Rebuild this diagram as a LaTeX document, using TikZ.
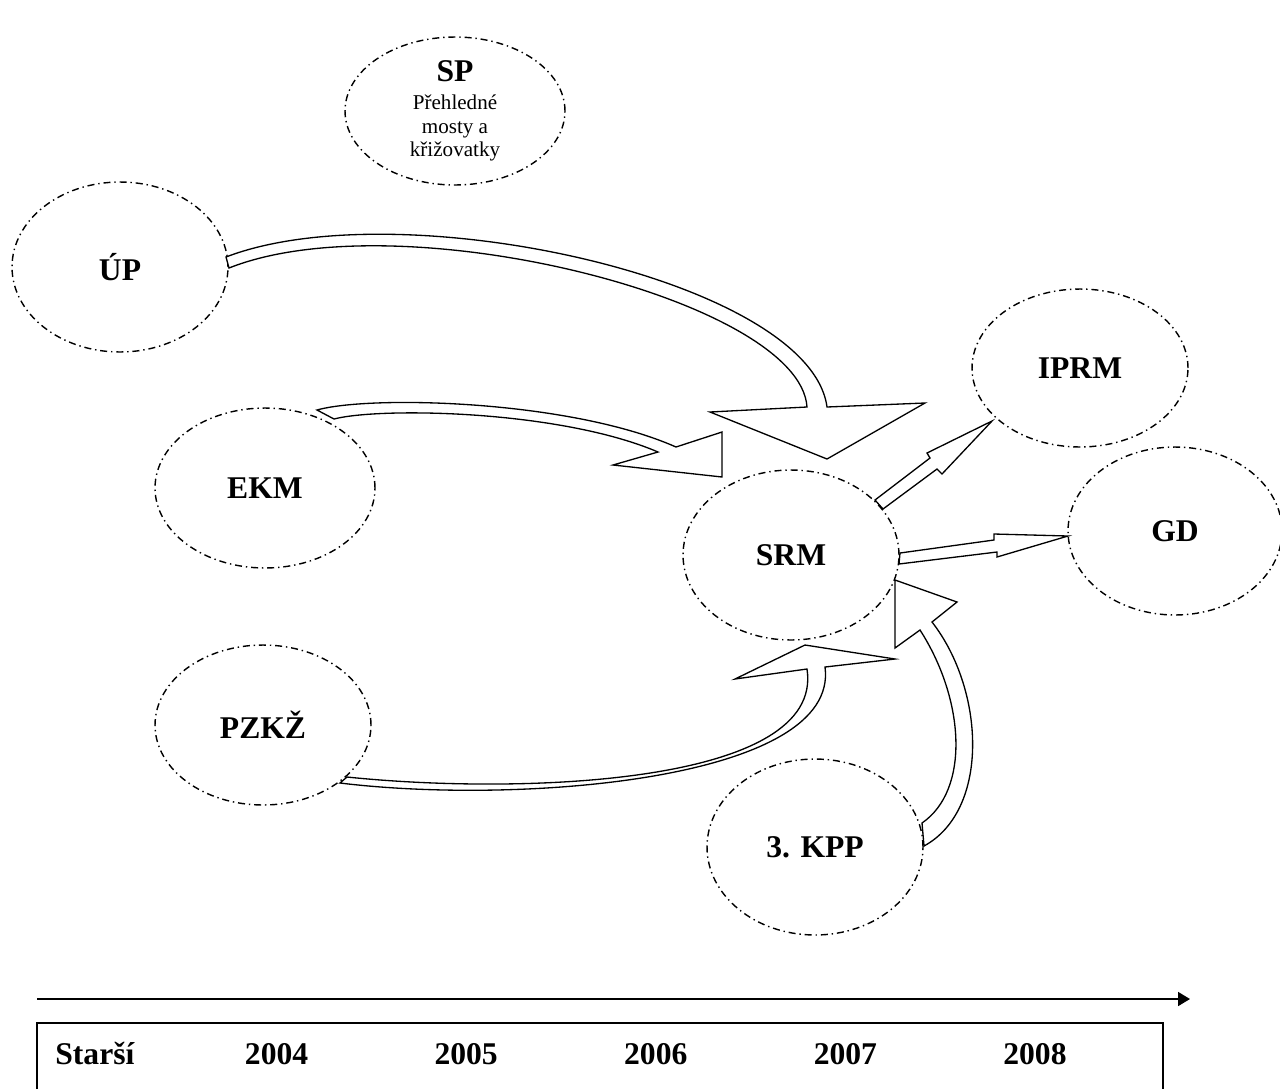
\documentclass[tikz,border=0pt]{standalone}
\usepackage{fontspec}
\setmainfont{Liberation Serif}
\usetikzlibrary{shapes.geometric,arrows.meta}

\begin{document}
\begin{tikzpicture}[x=0.02cm, y=-0.02cm,
    stage/.style={ellipse, draw=black, line width=0.8pt, dash pattern=on 4pt off 2.2pt on 0.8pt off 2.2pt,
      inner sep=0pt, minimum width=4.32cm, minimum height=3.3cm, font=\bfseries\fontsize{18}{21}\selectfont},
    blockarrow/.style={draw=black, fill=white, line width=0.75pt, line join=miter},
    timeline/.style={draw=black, line width=1.1pt, -{Triangle[length=6.8pt, width=7.9pt]}},
    yearlbl/.style={anchor=base west, inner sep=0pt, font=\bfseries\fontsize{18}{21}\selectfont}]

    \useasboundingbox (0,0) rectangle (1280,1089);

    % stages
    \node [stage, minimum width=4.4cm, minimum height=2.96cm, align=center,
      font=\fontsize{12}{13.3}\selectfont] (sp) at (455,111)
      {{\bfseries\fontsize{18}{18}\selectfont SP}\\[2.5pt]Přehledné\\mosty a\\křižovatky};
    \node [stage, minimum height=3.4cm] (up) at (120,267) {ÚP};
    \node [stage, minimum width=4.4cm, minimum height=3.2cm] (ekm) at (265,488) {EKM};
    \node [stage, minimum height=3.2cm] (pzkz) at (263,725) {PZKŽ};
    \node [stage, minimum height=3.4cm] (srm) at (791,555) {SRM};
    \node [stage, minimum height=3.16cm] (iprm) at (1080,368) {IPRM};
    \node [stage, minimum width=4.28cm, minimum height=3.36cm] (gd) at (1175,531) {GD};
    \node [stage, minimum height=3.52cm] (kpp) at (815,847) {3. KPP};

    % curved block arrows into SRM
    \draw [blockarrow] (226,257) .. controls (400,190) and (810,280) .. (827,407)
      -- (925,403) -- (827,459) -- (710,412) -- (807,407)
      .. controls (800,300) and (400,200) .. (229,268) -- cycle;
    \draw [blockarrow] (317,410) .. controls (370,395) and (570,400) .. (676,447)
      -- (722,432) -- (722,477) -- (613,465) -- (658,452)
      .. controls (560,410) and (380,407) .. (334,419) -- cycle;
    \draw [blockarrow] (347,777) .. controls (520,795) and (825,785) .. (807,669)
      -- (735,679) -- (805,645) -- (895,659) -- (825,667)
      .. controls (840,780) and (520,805) .. (340,783) -- cycle;
    \draw [blockarrow] (924,846) .. controls (990,810) and (985,690) .. (932,622)
      -- (957,602) -- (895,580) -- (895,648) -- (920,630)
      .. controls (965,700) and (970,790) .. (922,823) -- cycle;

    % straight block arrows out of SRM
    \draw [blockarrow] (875,500) -- (930,458) -- (927,453) -- (992,421)
      -- (942,474) -- (937,469) -- (883,509) -- cycle;
    \draw [blockarrow] (900,553) -- (994,540) -- (994,534) -- (1068,536)
      -- (997,557) -- (997,552) -- (899,564) -- cycle;

    % time axis
    \coordinate (tlstart) at (37,999);
    \coordinate (tlend) at (1190,999);
    \path [timeline] (tlstart) -- (tlend);
    \draw [line width=1pt] (37,1089) -- (37,1023) -- (1163,1023) -- (1163,1089);

    \node [yearlbl] (older) at (55,1064) {Starší};
    \foreach \yr [count=\i] in {2004,2005,2006,2007,2008}
      \node [yearlbl] (y\yr) at ({55+\i*189.6},1064) {\yr};
  \end{tikzpicture}
\end{document}
